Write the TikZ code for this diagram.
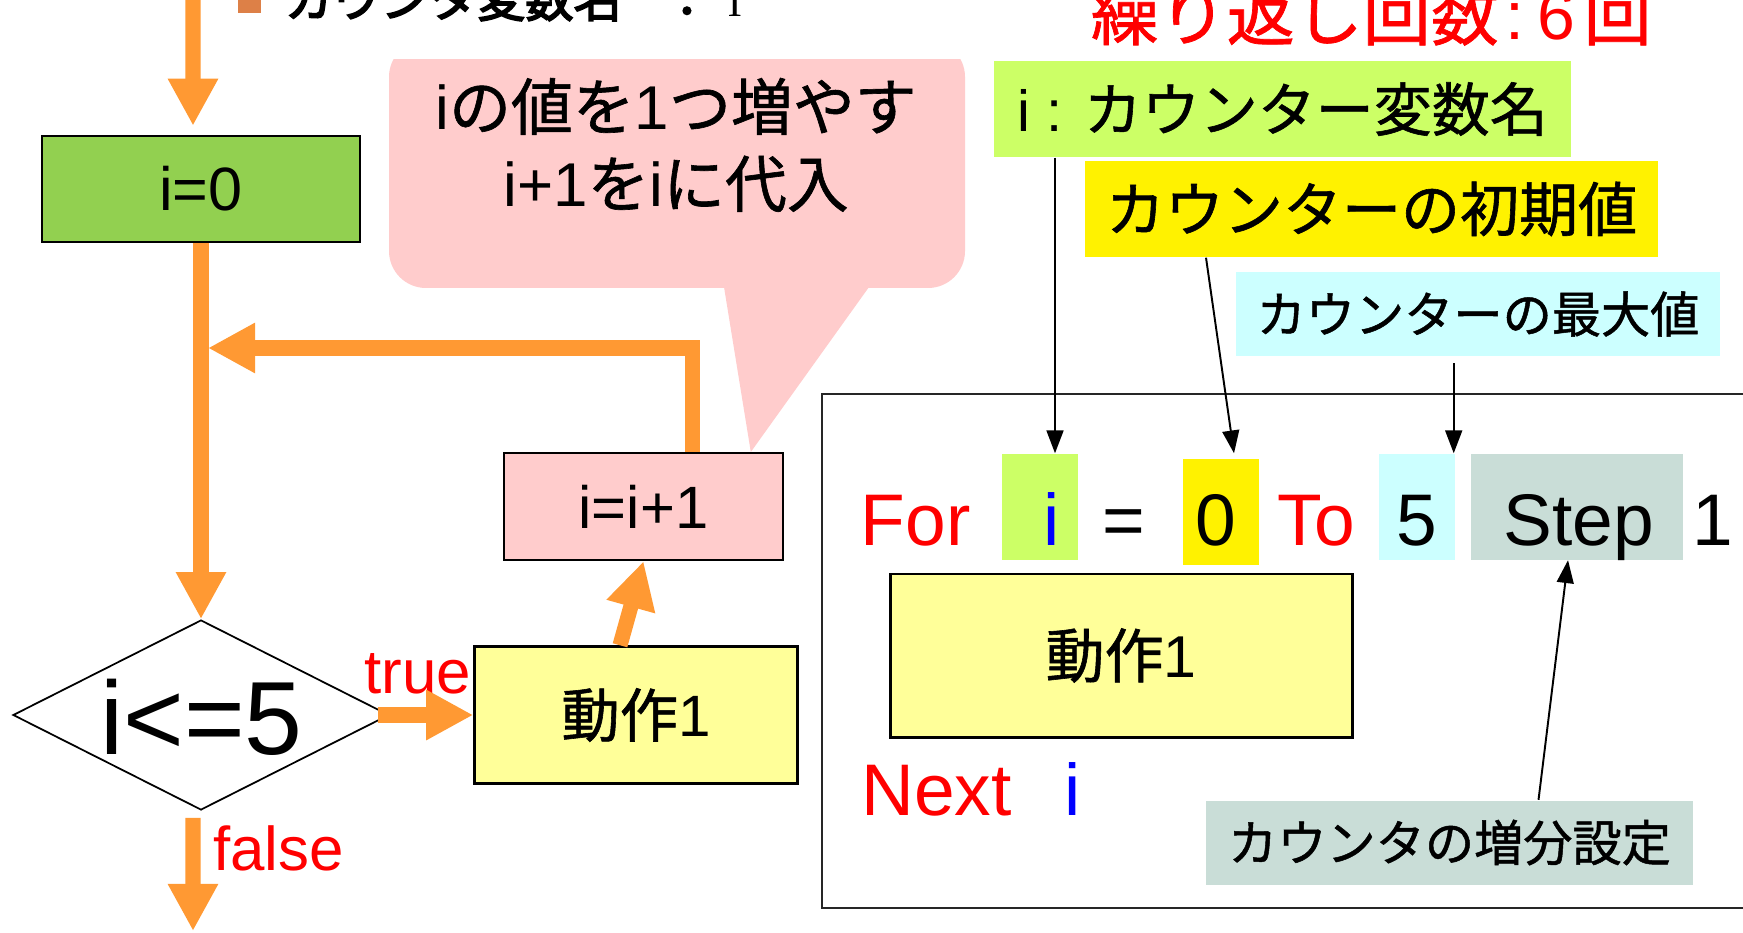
\documentclass[tikz,border=0pt]{standalone}
\usepackage{fontspec}
\setmainfont{Liberation Sans}
\newfontfamily\jp[FakeBold=1]{Noto Sans CJK JP}
\newfontfamily\jpb[FakeBold=3.5]{Noto Sans CJK JP}
\newfontfamily\serifi{Liberation Serif}
\usetikzlibrary{arrows.meta,shapes.geometric}
\newcommand\setfs[1]{\fontsize{#1}{#1}\selectfont}
\definecolor{orangeC}{RGB}{255,153,51}
\definecolor{greenC}{RGB}{146,208,80}
\definecolor{yellowL}{RGB}{255,255,153}
\definecolor{pinkC}{RGB}{255,204,204}
\definecolor{lgreen}{RGB}{204,255,102}
\definecolor{lcyan}{RGB}{204,255,255}
\definecolor{grayC}{RGB}{201,221,215}
\definecolor{bulletC}{RGB}{221,128,71}
\definecolor{redC}{RGB}{255,0,0}
\definecolor{blueC}{RGB}{0,0,255}
\tikzset{
  flowbox/.style={draw=black, line width=0.7pt, inner sep=0},
  lbl/.style={inner sep=0},
  codebg/.style={inner sep=0},
  code/.style={inner sep=0, font=\setfs{20.8pt}},
  lab/.style={inner sep=0, text=redC, font=\setfs{17.6pt}},
  oarrow/.style={draw=orangeC, line width=4.3pt, line join=miter,
    -{Triangle[length=13.4pt,width=13.4pt]}},
  tarrow/.style={draw=black, line width=0.55pt,
    -{Triangle[length=6.5pt,width=4.8pt]}}
}
\begin{document}
\begin{tikzpicture}[x=0.1mm,y=-0.1mm]
\useasboundingbox (0,0) rectangle (1743,932);
\fill[white] (0,0) rectangle (1743,932);

% top cut-off text
\node[fill=bulletC, minimum width=2.3mm, minimum height=2.3mm, inner sep=0] (bul) at (249.5,1.5) {};
\node[anchor=base west, inner sep=0, font=\setfs{13.7pt}] (toptext) at (284,17)
  {\jpb カウンタ変数名\hspace{11.7pt}：\makebox[13.66pt]{\serifi i}};
\node[anchor=base west, inner sep=0, text=redC, font=\setfs{19.35pt}] (title) at (1090,40)
  {{\jp 繰り返し回数}\hspace{2pt}:\hspace{3.7pt}6\hspace{2.3pt}{\jp 回}};

% callout
\begin{scope}
\clip (0,60) rectangle (1743,932);
\fill[pinkC, rounded corners=3.7mm] (389,40) rectangle (965,288);
\end{scope}
\fill[pinkC] (724,287) -- (869,287) -- (750.8,452) -- cycle;
\node[anchor=base, inner sep=0, font=\setfs{17.6pt}] (call1) at (676,130) {i{\jp の値を}1{\jp つ増やす}};
\node[anchor=base, inner sep=0, font=\setfs{17.6pt}] (call2) at (676,207) {i+1{\jp を}i{\jp に代入}};

% flowchart
\node[flowbox, fill=greenC, minimum width=31.8mm, minimum height=10.6mm, font=\setfs{17.4pt}] (g0) at (201,189) {i=0};
\node[diamond, draw=black, line width=0.5pt, minimum width=37.6mm, minimum height=19mm, inner sep=0] (d) at (201,715) {};
\node[inner sep=0, font=\setfs{29.6pt}] (dtext) at (201.5,717) {i<=5};
\node[flowbox, fill=yellowL, minimum width=32.3mm, minimum height=13.7mm, font=\setfs{16.6pt}] (a1) at (636,715) {{\jp 動作}1};
\node[flowbox, fill=pinkC, minimum width=27.9mm, minimum height=10.7mm, font=\setfs{17pt}] (inc) at (643.5,506.5) {i=i+1};
\node[lab, anchor=base west] (ttrue) at (364,693.5) {true};
\node[lab, anchor=base west] (tfalse) at (212.5,870) {false};

\coordinate (loopin) at (208,348);
\coordinate (fend) at (193,931);
\draw[oarrow] (193,-10) -- ([xshift=-0.8mm,yshift=0.9mm]g0.north);
\draw[oarrow] (g0.south) -- (d.north);
\draw[oarrow] ([xshift=-1.2mm]d.east) -- (a1.west);
\draw[oarrow] ([xshift=-1.6mm]a1.north) -- (inc.south);
\draw[oarrow] ([xshift=4.9mm]inc.north) |- (loopin);
\draw[oarrow] ([xshift=-0.8mm,yshift=-0.7mm]d.south) -- (fend);

% right side labels
\node[lbl, fill=lgreen, minimum width=57.7mm, minimum height=9.6mm, font=\setfs{16.5pt}] (lblA) at (1282.5,109) {i : {\jp カウンター変数名}};
\node[lbl, fill=yellow, minimum width=57.3mm, minimum height=9.6mm, font=\setfs{16.8pt}] (lblB) at (1371.5,209) {\jp カウンターの初期値};
\node[lbl, fill=lcyan, minimum width=48.4mm, minimum height=8.4mm, font=\setfs{14pt}] (lblC) at (1478,314) {\jp カウンターの最大値};

% frame
\node[draw=black!85, line width=0.6pt, anchor=north west, minimum width=95mm, minimum height=51.4mm, inner sep=0] (frame) at (821,393) {};

% code line background boxes
\node[codebg, fill=lgreen, minimum width=7.6mm, minimum height=10.55mm] (gi) at (1040,506.75) {};
\node[codebg, fill=yellow, minimum width=7.6mm, minimum height=10.6mm] (y0) at (1221,512) {};
\node[codebg, fill=lcyan, minimum width=7.65mm, minimum height=10.55mm] (c5) at (1417,506.75) {};
\node[codebg, fill=grayC, minimum width=21.2mm, minimum height=10.55mm] (st) at (1577,506.75) {};

\node[code, text=redC, anchor=base west] (kfor) at (860,545.5) {For};
\node[code, text=blueC, anchor=base] (ci) at (1052,545.5) {i};
\node[code, anchor=base] (eq) at (1123.5,545.5) {=};
\node[code, anchor=base] (c0) at (1215.5,545.5) {0};
\node[code, text=redC, anchor=base west] (kto) at (1277,545.5) {To};
\node[code, anchor=base] (c5t) at (1417,545.5) {5};
\node[code, anchor=base] (kstep) at (1578.5,545.5) {Step};
\node[code, anchor=base] (c1t) at (1712.5,545.5) {1};

\node[flowbox, fill=yellowL, line width=0.85pt, minimum width=46.2mm, minimum height=16.3mm, font=\setfs{16.8pt}] (a2) at (1121,655.5) {{\jp 動作}1};

\node[code, text=redC, anchor=base west] (knext) at (860.5,815) {Next};
\node[code, text=blueC, anchor=base] (ni) at (1073,815) {i};

\node[lbl, fill=grayC, minimum width=48.7mm, minimum height=8.4mm, font=\setfs{14pt}] (lblD) at (1449.5,842.5) {\jp カウンタの増分設定};

% thin arrows
\draw[tarrow] ([xshift=0.3mm]ci |- lblA.south) -- ([xshift=0.3mm]ci |- gi.north);
\draw[tarrow] ([xshift=-16.55mm]lblB.south) -- ([xshift=1.3mm,yshift=0.5mm]y0.north);
\coordinate (a3s) at (1453.7,363);
\draw[tarrow] (a3s) -- (a3s |- c5.north);
\draw[tarrow] ([xshift=8.9mm]lblD.north) -- ([xshift=-0.9mm]st.south);
\end{tikzpicture}
\end{document}
